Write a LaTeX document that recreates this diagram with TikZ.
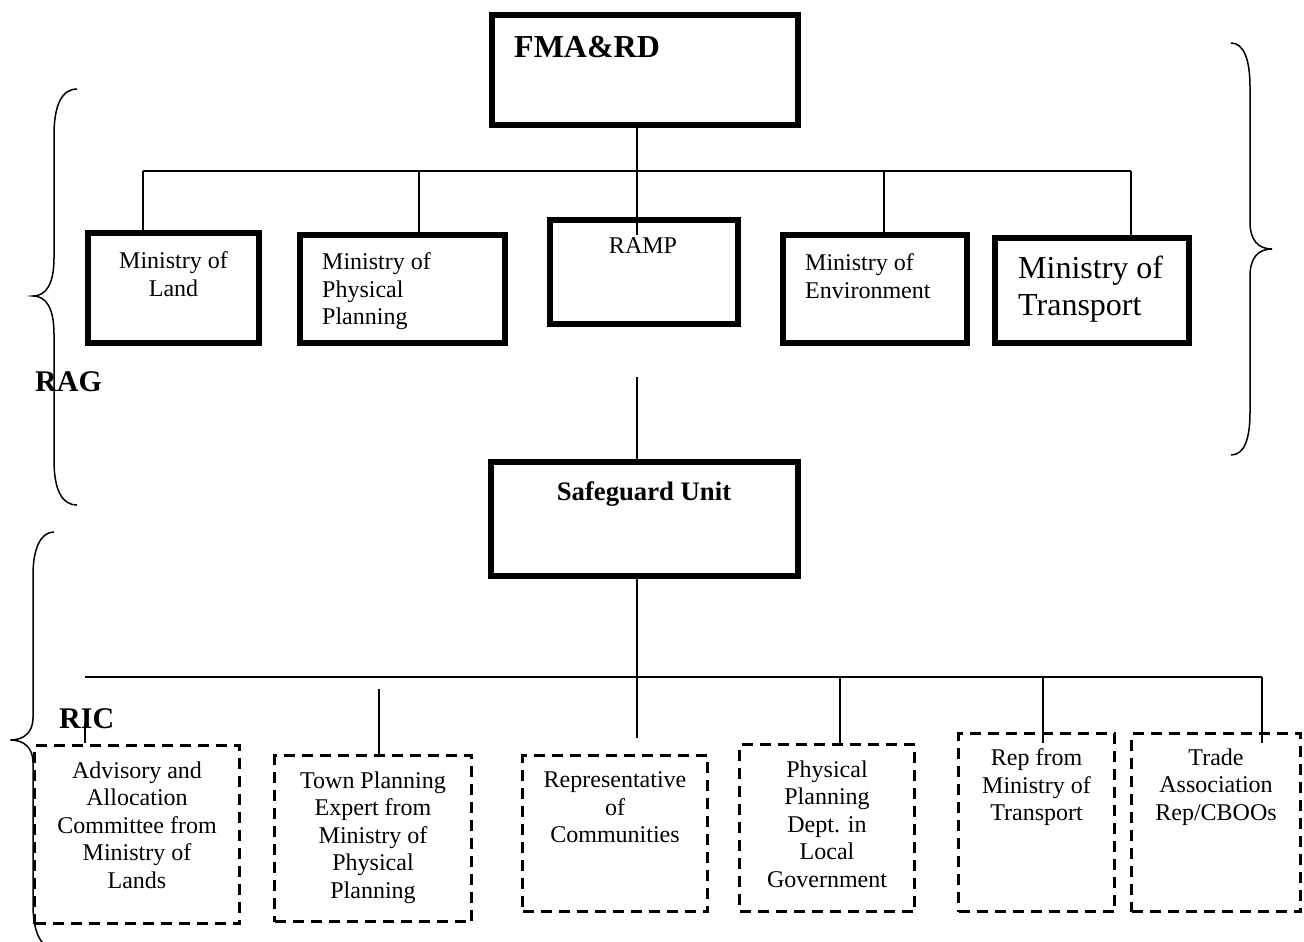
\documentclass[tikz,border=0pt]{standalone}
\usepackage{fontspec}
\setmainfont{Liberation Serif}
\begin{document}
\begin{tikzpicture}[x=1pt,y=-1pt,
  thickbox/.style={draw, line width=6pt, rectangle, inner sep=0pt},
  dashbox/.style={draw, line width=3pt, dash pattern=on 11pt off 7pt, rectangle, inner sep=0pt},
  conn/.style={line width=1.3pt},
  bracepath/.style={line width=1.5pt},
  small/.style={font=\fontsize{24}{27.5}\selectfont, inner sep=0pt},
  big/.style={font=\fontsize{32}{37}\selectfont, inner sep=0pt},
  lbl/.style={font=\bfseries\fontsize{30}{34}\selectfont, inner sep=0pt},
]
\useasboundingbox (0,0) rectangle (1304,942);
\clip (0,0) rectangle (1304,942);

% top level boxes
\node[thickbox, minimum width=306pt, minimum height=110pt] (fma) at (645,70) {};
\node[thickbox, minimum width=171pt, minimum height=110pt] (land) at (173.5,288) {};
\node[thickbox, minimum width=205pt, minimum height=108pt] (phys) at (402.5,289) {};
\node[thickbox, minimum width=188pt, minimum height=104pt] (ramp) at (644,272) {};
\node[thickbox, minimum width=184pt, minimum height=108pt] (env) at (875,289) {};
\node[thickbox, minimum width=194pt, minimum height=105pt] (tran) at (1092,290.5) {};
\node[thickbox, minimum width=307pt, minimum height=114pt] (safe) at (644.5,519) {};

% lower dashed boxes
\node[dashbox, minimum width=205pt, minimum height=178pt] (adv) at (137,834.5) {};
\node[dashbox, minimum width=197pt, minimum height=166pt] (town) at (373,838.5) {};
\node[dashbox, minimum width=185pt, minimum height=156pt] (rep) at (615,833.5) {};
\node[dashbox, minimum width=175pt, minimum height=167pt] (ppd) at (827,828) {};
\node[dashbox, minimum width=156pt, minimum height=178pt] (rmt) at (1036.5,822.5) {};
\node[dashbox, minimum width=169pt, minimum height=178pt] (trade) at (1216,822.5) {};

% texts
\node[font=\bfseries\fontsize{32}{37}\selectfont, anchor=base west, inner sep=0pt] (fmat) at (514,58) {FMA\&RD};
\node[small, align=center, anchor=north] (landt) at (173.5,251.5) {Ministry of\\Land};
\node[small, align=left, anchor=north west] (physt) at (322,252.5) {Ministry of\\Physical\\Planning};
\node[small, anchor=base] (rampt) at (643,253) {RAMP};
\node[small, align=left, anchor=north west] (envt) at (805,253.5) {Ministry of\\Environment};
\node[big, align=left, anchor=north west] (trant) at (1018,256) {Ministry of\\Transport};
\node[font=\bfseries\fontsize{26.7}{30}\selectfont, anchor=base, inner sep=0pt] (safet) at (644,500.7) {Safeguard Unit};
\node[lbl, anchor=base west] (rag) at (35,391.7) {RAG};
\node[lbl, anchor=base west] (ric) at (59,728) {RIC};

\node[small, align=center, anchor=north] (advt) at (137,761.5) {Advisory and\\Allocation\\Committee from\\Ministry of\\Lands};
\node[small, align=center, anchor=north] (townt) at (373,771.5) {Town Planning\\Expert from\\Ministry of\\Physical\\Planning};
\node[small, align=center, anchor=north] (rept) at (615,771.5) {Representative\\of\\Communities};
\node[small, align=center, anchor=north] (ppdt) at (827,760.5) {Physical\\Planning\\Dept. in\\Local\\Government};
\node[small, align=center, anchor=north] (rmtt) at (1036.5,748.5) {Rep from\\Ministry of\\Transport};
\node[small, align=center, anchor=north] (tradet) at (1216,748.5) {Trade\\Association\\Rep/CBOOs};

% upper connectors
\coordinate (b1) at (143,171);
\coordinate (b2) at (419,171);
\coordinate (b4) at (884,171);
\coordinate (b5) at (1131,171);
\coordinate (rampin) at (637,235);
\coordinate (m1) at (637,377);
\draw[conn] (b1) -- (b5);
\draw[conn] (b1) -- (b1 |- land.north);
\draw[conn] (b2) -- (b2 |- phys.north);
\draw[conn] (b4) -- (b4 |- env.north);
\draw[conn] (b5) -- (b5 |- tran.north);
\draw[conn] (fma.south -| rampin) -- (rampin);
\draw[conn] (m1) -- (m1 |- safe.north);

% lower connectors
\coordinate (sdown) at (637,738);
\coordinate (l1) at (85,677);
\coordinate (l6) at (1262,677);
\coordinate (l4) at (840,677);
\coordinate (l5) at (1043,677);
\coordinate (t1a) at (85,723);
\coordinate (t1b) at (85,743);
\coordinate (t2) at (379,689);
\draw[conn] (safe.south -| sdown) -- (sdown);
\draw[conn] (l1) -- (l6);
\draw[conn] (t1a) -- (t1b);
\draw[conn] (t2) -- (t2 |- town.north);
\draw[conn] (l4) -- (l4 |- ppd.north);
\draw[conn] (l5) -- ++(0,66);
\draw[conn] (l6) -- ++(0,66);

% braces
\draw[bracepath] (77,89) .. controls (62,89) and (54,105) .. (54,135) -- (54,258)
  .. controls (54,284) and (46,296) .. (33,296)
  .. controls (46,296) and (54,308) .. (54,334) -- (54,460)
  .. controls (54,490) and (62,505) .. (77,505);
\draw[bracepath] (1231,43) .. controls (1244,43) and (1250,60) .. (1250,87) -- (1250,222)
  .. controls (1250,240) and (1258,249) .. (1272,249)
  .. controls (1258,249) and (1250,258) .. (1250,276) -- (1250,412)
  .. controls (1250,440) and (1244,455) .. (1231,455);
\draw[bracepath] (54,532) .. controls (40,532) and (33,550) .. (33,575) -- (33,718)
  .. controls (33,732) and (24,740) .. (10.5,740)
  .. controls (24,740) and (33,748) .. (33,762) -- (33,905)
  .. controls (33,930) and (40,948) .. (54,948);
\end{tikzpicture}
\end{document}
